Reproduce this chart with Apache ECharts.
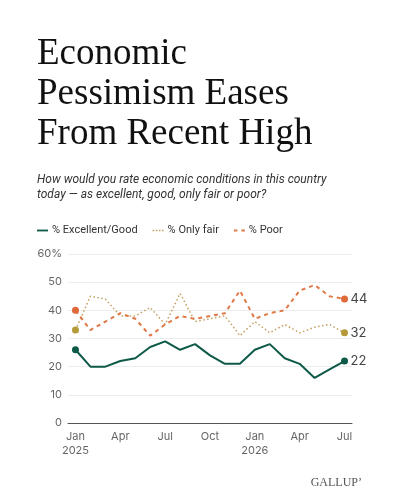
<!DOCTYPE html>
<html>
<head>
<meta charset="utf-8">
<script src="https://cdn.jsdelivr.net/npm/echarts@6/dist/echarts.min.js"></script>
<style>
  html, body { margin: 0; padding: 0; background: #fff; }
  #chart { width: 400px; height: 500px; }
</style>
</head>
<body>
<div id="chart"></div>
<script>
// 月份（2025年1月 - 2026年7月）
var months = ['Jan 2025', 'Feb 2025', 'Mar 2025', 'Apr 2025', 'May 2025', 'Jun 2025',
  'Jul 2025', 'Aug 2025', 'Sep 2025', 'Oct 2025', 'Nov 2025', 'Dec 2025',
  'Jan 2026', 'Feb 2026', 'Mar 2026', 'Apr 2026', 'May 2026', 'Jun 2026', 'Jul 2026'];

// 三条线的数据
var excellentGood = [26, 20, 20, 22, 23, 27, 29, 26, 28, 24, 21, 21, 26, 28, 23, 21, 16, 19, 22];
var onlyFair = [33, 45, 44, 38, 38, 41, 35, 46, 36, 37, 38, 31, 36, 32, 35, 32, 34, 35, 32];
var poor = [40, 33, 36, 39, 37, 31, 35, 38, 37, 38, 39, 47, 37, 39, 40, 47, 49, 45, 44];

var seriesNames = ['% Excellent/Good', '% Only fair', '% Poor'];
var yTicks = [0, 10, 20, 30, 40, 50, 60];

var chart = echarts.init(document.getElementById('chart'));

// 只在首尾两个点画圆点
function withEnds(arr, color) {
  return arr.map(function (v, i) {
    if (i === 0 || i === arr.length - 1) {
      return { value: v, symbol: 'circle', symbolSize: 7, itemStyle: { color: color } };
    }
    return v;
  });
}

// 图例的小图标：实线 / 点线 / 虚线
var iconSolid = 'path://M0,0H12V2H0Z';
var iconDotted = 'path://M0,0H1.5V1.5H0Z M3,0H4.5V1.5H3Z M6,0H7.5V1.5H6Z M9,0H10.5V1.5H9Z';
var iconDashed = 'path://M0,0H3.5V2H0Z M7.5,0H11V2H7.5Z';

var endLabel = { show: true, formatter: '{c}', distance: 6, fontFamily: 'Inter', fontSize: 13, color: '#444' };

var option = {
  backgroundColor: '#fff',
  animation: false,
  title: [{
    text: 'Economic\nPessimism Eases\nFrom Recent High',
    left: 37,
    top: 34,
    padding: 0,
    textStyle: {
      fontFamily: 'Liberation Serif',
      fontWeight: 'normal',
      fontSize: 37,
      lineHeight: 40,
      color: '#111'
    }
  }, {
    text: 'How would you rate economic conditions in this country\ntoday \u2014 as excellent, good, only fair or poor?',
    left: 37,
    top: 172,
    padding: 0,
    textStyle: {
      fontFamily: 'Roboto',
      fontStyle: 'italic',
      fontWeight: 'normal',
      fontSize: 12,
      lineHeight: 15,
      color: '#333'
    }
  }, {
    text: 'GALLUP\u2019',
    right: 38,
    top: 477,
    padding: 0,
    textStyle: {
      fontFamily: 'Liberation Serif',
      fontWeight: 'normal',
      fontSize: 12,
      color: '#555'
    }
  }],
  legend: {
    data: [
      { name: seriesNames[0], icon: iconSolid },
      { name: seriesNames[1], icon: iconDotted },
      { name: seriesNames[2], icon: iconDashed }
    ],
    left: 37,
    top: 225,
    padding: 0,
    itemWidth: 11,
    itemHeight: 2,
    itemGap: 15,
    textStyle: { fontFamily: 'Roboto', fontSize: 11, color: '#333', padding: [0, 0, 0, -1] }
  },
  grid: { left: 68, right: 48, top: 254, bottom: 77 },
  xAxis: {
    type: 'category',
    data: months,
    boundaryGap: true,
    axisLine: { lineStyle: { color: '#555', width: 1 } },
    axisTick: { show: false },
    axisLabel: {
      interval: 2,
      margin: 7,
      fontFamily: 'Inter',
      fontSize: 11,
      lineHeight: 14,
      color: '#666',
      formatter: function (v) {
        var p = v.split(' ');
        return p[0] === 'Jan' ? p[0] + '\n' + p[1] : p[0];
      }
    }
  },
  yAxis: {
    type: 'value',
    min: yTicks[0],
    max: yTicks[yTicks.length - 1],
    interval: 10,
    axisLine: { show: false },
    axisTick: { show: false },
    axisLabel: {
      margin: 6,
      fontFamily: 'Inter',
      fontSize: 11,
      color: '#666',
      formatter: function (v) { return v === 60 ? '60%' : v; }
    },
    splitLine: { lineStyle: { color: '#ececec', width: 1 } }
  },
  series: [{
    name: seriesNames[0],
    type: 'line',
    data: withEnds(excellentGood, '#0e5a48'),
    symbol: 'none',
    color: '#0e5a48',
    lineStyle: { width: 2, color: '#0e5a48' },
    endLabel: endLabel,
    z: 3
  }, {
    name: seriesNames[1],
    type: 'line',
    data: withEnds(onlyFair, '#b49b38'),
    symbol: 'none',
    color: '#c4a060',
    lineStyle: { width: 1.5, type: [1.5, 2.5], color: '#c4a060' },
    endLabel: endLabel,
    z: 2
  }, {
    name: seriesNames[2],
    type: 'line',
    data: withEnds(poor, '#e0693a'),
    symbol: 'none',
    color: '#e07a48',
    lineStyle: { width: 2, type: [4, 4], color: '#e07a48' },
    endLabel: endLabel,
    z: 2
  }]
};

chart.setOption(option);
</script>
</body>
</html>
